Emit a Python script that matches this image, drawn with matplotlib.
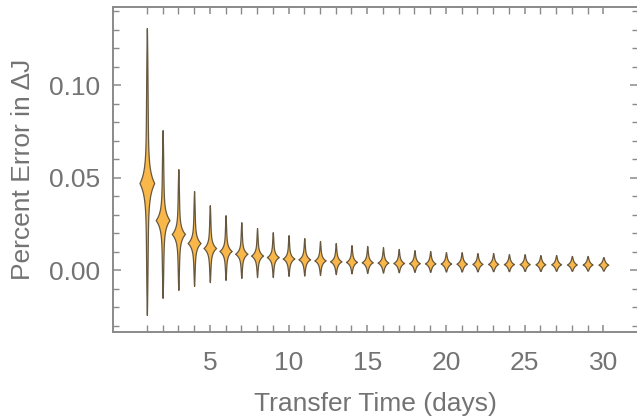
import numpy as np
import matplotlib
matplotlib.use("Agg")
import matplotlib.pyplot as plt
from matplotlib.ticker import MultipleLocator, FixedLocator

# dias de transferencia e forma de cada violino
dias = list(range(1, 31))
centro = [0.0470, 0.0270, 0.0195, 0.0146, 0.0119, 0.0103, 0.0088, 0.0078, 0.0070, 0.0062,
          0.0058, 0.0052, 0.0047, 0.0044, 0.0042, 0.0040, 0.0038, 0.0037, 0.0036, 0.0035,
          0.0034, 0.0033, 0.0033, 0.0032, 0.0032, 0.0031, 0.0031, 0.0030, 0.0030, 0.0029]
maximo = [0.1308, 0.0757, 0.0546, 0.0427, 0.0351, 0.0297, 0.0259, 0.0227, 0.0205, 0.0189,
          0.0173, 0.0157, 0.0146, 0.0135, 0.0130, 0.0124, 0.0114, 0.0108, 0.0103, 0.0097,
          0.0097, 0.0092, 0.0092, 0.0086, 0.0086, 0.0081, 0.0081, 0.0076, 0.0076, 0.0070]
minimo = [-0.0243, -0.0151, -0.0108, -0.0086, -0.0065, -0.0054, -0.0043, -0.0038, -0.0038, -0.0032,
          -0.0030, -0.0027, -0.0022, -0.0018, -0.0016, -0.0014, -0.0012, -0.0010, -0.0010, -0.0008,
          -0.0008, -0.0007, -0.0006, -0.0006, -0.0005, -0.0005, -0.0004, -0.0004, -0.0003, -0.0003]
espalhamento = [0.0065, 0.0043, 0.0034, 0.0029, 0.0025, 0.0022, 0.0020, 0.0019, 0.0018, 0.0017,
                0.0017, 0.0016, 0.0016, 0.0015, 0.0015, 0.0015, 0.0014, 0.0014, 0.0014, 0.0014,
                0.0014, 0.0014, 0.0014, 0.0013, 0.0013, 0.0013, 0.0013, 0.0013, 0.0013, 0.0013]
meia_largura = [0.48, 0.45, 0.43, 0.42, 0.41, 0.40, 0.40, 0.39, 0.39, 0.38,
                0.38, 0.37, 0.37, 0.36, 0.36, 0.35, 0.35, 0.35, 0.34, 0.34,
                0.34, 0.33, 0.33, 0.33, 0.33, 0.32, 0.32, 0.32, 0.32, 0.32]

COR = "#f9b749"
BORDA = "#66573f"
TEXTO = "#737373"

plt.rcParams['font.family'] = ['Liberation Sans', 'DejaVu Sans']

fig = plt.figure(figsize=(6.37, 4.20), dpi=100)
ax = fig.add_axes([113/637, 1 - 332/420, 1 - 112/637, (332 - 7)/420])

for x, c, hi, lo, s, w in zip(dias, centro, maximo, minimo, espalhamento, meia_largura):
    y = np.linspace(lo, hi, 600)
    d = y - c
    L = np.where(d > 0, hi - c, c - lo)
    cauda = np.clip(1 - np.abs(d) / L, 0, 1) ** 0.7
    hw = w * (0.8 * np.exp(-np.abs(d) / s) + 0.18 * cauda)
    ax.fill_betweenx(y, x - hw, x + hw, facecolor=COR, edgecolor=BORDA,
                     linewidth=0.9, zorder=3)

ax.set_xlim(-1.15, 32.2)
ax.set_ylim(-0.0335, 0.1422)

ax.xaxis.set_major_locator(FixedLocator([5, 10, 15, 20, 25, 30]))
ax.xaxis.set_minor_locator(FixedLocator(dias))
ax.yaxis.set_major_locator(MultipleLocator(0.05))
ax.yaxis.set_minor_locator(MultipleLocator(0.01))
ax.yaxis.set_major_formatter(matplotlib.ticker.FormatStrFormatter('%.2f'))

ax.tick_params(which='both', direction='in', top=True, right=True,
               color='#8a8a8a', labelcolor=TEXTO, labelsize=19)
ax.tick_params(which='major', length=6, width=1.1, pad=9)
ax.tick_params(axis='x', which='major', length=5, pad=14)
ax.tick_params(which='minor', length=4, width=1.0)
ax.tick_params(axis='x', which='minor', length=5)

for sp in ax.spines.values():
    sp.set_color('#8a8a8a')
    sp.set_linewidth(1.4)

ax.set_xlabel("Transfer Time (days)", fontsize=19, color=TEXTO, labelpad=12)
ax.set_ylabel("Percent Error in ΔJ", fontsize=19, color=TEXTO, labelpad=10)

fig.savefig("out.png", dpi=100)
